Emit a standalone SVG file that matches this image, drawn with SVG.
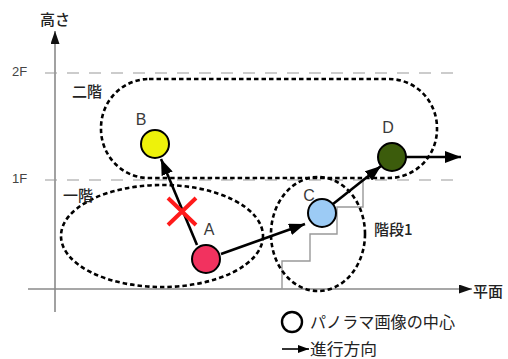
<svg xmlns="http://www.w3.org/2000/svg" width="508" height="359" viewBox="0 0 508 359">
<defs>
<marker id="ah" markerUnits="userSpaceOnUse" markerWidth="16" markerHeight="12" viewBox="0 0 16 12" refX="16" refY="6" orient="auto">
<path d="M0,0 L16,6 L0,12 Z" fill="#000"/>
</marker>
<marker id="axh" markerUnits="userSpaceOnUse" markerWidth="13" markerHeight="9" viewBox="0 0 13 9" refX="13" refY="4.5" orient="auto">
<path d="M0,0 L13,4.5 L0,9 Z" fill="#111"/>
</marker>
<marker id="lgh" markerUnits="userSpaceOnUse" markerWidth="11" markerHeight="8" viewBox="0 0 11 8" refX="11" refY="4" orient="auto">
<path d="M0,0 L11,4 L0,8 Z" fill="#000"/>
</marker>
</defs>
<style>
.axis{stroke:#8a8a8a;stroke-width:1.6;fill:none}
.lvl{stroke:#9a9a9a;stroke-width:1.2;stroke-dasharray:12 10;fill:none}
.zone{stroke:#000;stroke-width:2.6;stroke-dasharray:4.5 3;fill:none}
.stair{stroke:#999;stroke-width:1.4;fill:none}
.node{stroke:#000;stroke-width:2}
.arr{stroke:#000;stroke-width:2.6;fill:none;marker-end:url(#ah)}
.lbl{font-family:"Liberation Sans",Arial,sans-serif;font-size:16px;fill:#3a3a3a;text-anchor:middle}
.tick{font-family:"Liberation Sans",Arial,sans-serif;font-size:13px;fill:#444}
.jp{font-family:"Noto Sans CJK JP","Noto Sans",sans-serif;font-size:15px;fill:#222}
.jpb{font-family:"Noto Sans CJK JP","Noto Sans",sans-serif;font-size:15px;fill:#222;font-weight:500}
</style>
<g id="axes">
<line class="axis" x1="55" y1="312" x2="55" y2="31" marker-end="url(#axh)"/>
<line class="axis" x1="28" y1="289" x2="472" y2="289" marker-end="url(#axh)"/>
<line class="lvl" x1="45" y1="73" x2="456" y2="73"/>
<line class="lvl" x1="45" y1="180" x2="456" y2="180"/>
<text class="jpb" x="40" y="25">高さ</text>
<text class="jpb" x="473" y="297">平面</text>
<text class="tick" x="12" y="76">2F</text>
<text class="tick" x="12" y="183">1F</text>
</g>
<g id="stairs">
<polyline class="stair" points="282,289 282,261 310,261 310,234 337,234 337,207 363,207 363,180"/>
</g>
<g id="zone-2f">
<rect class="zone" x="101" y="79" width="336" height="99" rx="48" ry="49"/>
<text class="jpb" x="72" y="97">二階</text>
</g>
<g id="zone-1f">
<ellipse class="zone" cx="162" cy="236" rx="101" ry="51"/>
<text class="jpb" x="63" y="201">一階</text>
</g>
<g id="zone-stairs">
<ellipse class="zone" cx="318" cy="234" rx="47" ry="57"/>
<text class="jpb" x="374" y="235">階段1</text>
</g>
<g id="connectors">
<line class="arr" x1="197" y1="245" x2="161" y2="159"/>
<line class="arr" x1="221" y1="254" x2="305" y2="224"/>
<line class="arr" x1="333" y1="204" x2="381" y2="166"/>
<line class="arr" x1="406" y1="157" x2="461" y2="157"/>
</g>
<g id="cross">
<path d="M168,198 L196,225 M196,198 L168,225" stroke="#ff1a1a" stroke-width="4" fill="none"/>
</g>
<g id="node-A">
<circle class="node" cx="206" cy="259" r="14" fill="#f2325f"/>
<text class="lbl" x="209" y="235">A</text>
</g>
<g id="node-B">
<circle class="node" cx="155" cy="144" r="14" fill="#eef20a"/>
<text class="lbl" x="141" y="125">B</text>
</g>
<g id="node-C">
<circle class="node" cx="322" cy="213" r="14" fill="#9ccbf5"/>
<text class="lbl" x="309" y="201">C</text>
</g>
<g id="node-D">
<circle class="node" cx="392" cy="157" r="14" fill="#3c5c0c"/>
<text class="lbl" x="388" y="133">D</text>
</g>
<g id="legend">
<circle cx="292" cy="322" r="10" fill="#fff" stroke="#000" stroke-width="2.4"/>
<text class="jp" x="310" y="328" style="font-size:16px" textLength="145" lengthAdjust="spacingAndGlyphs">パノラマ画像の中心</text>
<line x1="282" y1="349" x2="309" y2="349" stroke="#000" stroke-width="1.6" marker-end="url(#lgh)"/>
<text class="jp" x="310" y="355" style="font-size:16px" textLength="67" lengthAdjust="spacingAndGlyphs">進行方向</text>
</g>
</svg>
